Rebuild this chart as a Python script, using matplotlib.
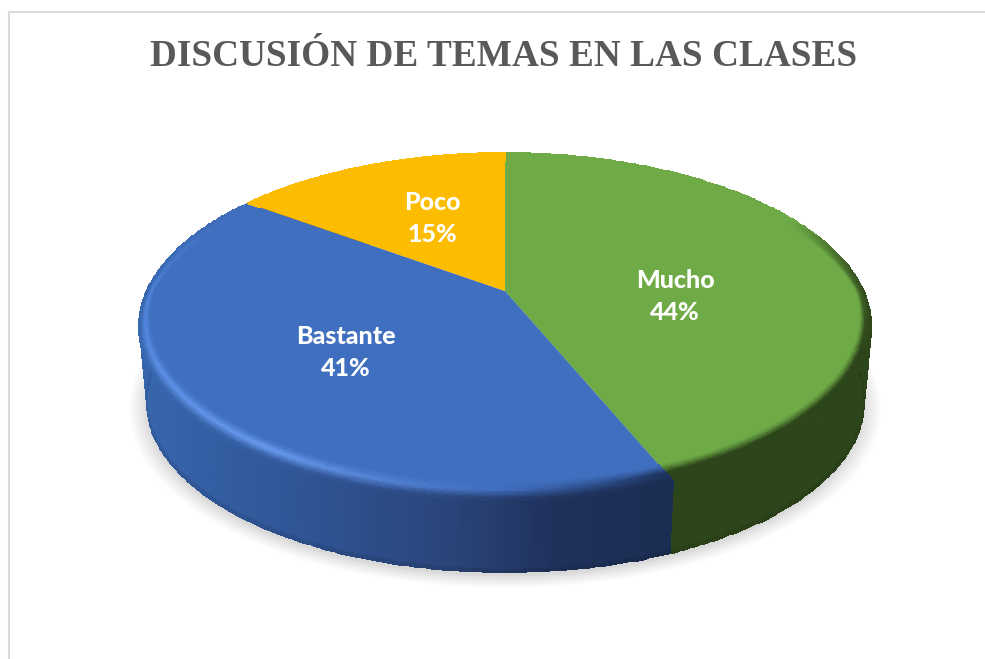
import numpy as np
import matplotlib
matplotlib.use("Agg")
import matplotlib.pyplot as plt
from matplotlib.colors import to_rgb

# datos del grafico
categorias = ["Mucho", "Bastante", "Poco"]
valores = [43.8, 41.3, 14.9]
colores = ["#6EAB47", "#406FBF", "#FCBC00"]
titulo = "DISCUSIÓN DE TEMAS EN LAS CLASES"

# proyeccion en perspectiva del disco
cx, cy = 505, 291
R, b, k = 358.3, 166.2, 0.2045
escala_base, dy_base = 0.98, 76


def proyectar(theta, r=1.0, base=False):
    X = r * np.sin(theta)
    Y = r * np.cos(theta)
    w = 1 + k * Y
    x = R * X / w
    y = -b * Y / w
    if base:
        return cx + escala_base * x, cy + escala_base * y + dy_base
    return cx + x, cy + y


def hex_rgb(lista):
    return np.array([to_rgb(c) for c in lista])


# color del lateral segun x
x_azul = [145, 300, 450, 550, 670]
c_azul = hex_rgb(["#3765AC", "#2F5596", "#2A4479", "#20325C", "#1A2D52"])
x_verde = [660, 870]
c_verde = hex_rgb(["#2D451A", "#2D451A"])
x_amar = [0, 985]
c_amar = hex_rgb(["#7F6000", "#7F6000"])
laterales = [(x_verde, c_verde), (x_azul, c_azul), (x_amar, c_amar)]


def color_lateral(i, x):
    xs, cs = laterales[i]
    return np.stack([np.interp(x, xs, cs[:, j]) for j in range(3)], axis=-1)


# brillo del borde por sector (angulo en grados, color, fuerza)
brillo = [
    ([0, 62, 85, 110, 158], ["#2D451A"] * 5, [0, 0, 0.6, 1, 1]),
    ([158, 180, 215, 270, 306], ["#1E3560", "#3F6CBC", "#6A9BF0", "#4F84DC", "#406FBF"], [1, 1, 1, 1, 0]),
    ([306, 360], ["#FCBC00", "#FCBC00"], [0, 0]),
]

fig = plt.figure(figsize=(9.85, 6.59), dpi=100)
ax = fig.add_axes([0, 0, 1, 1])
ax.set_xlim(0, 985)
ax.set_ylim(659, 0)
ax.axis("off")

# marco
ax.plot([985, 9, 9], [12, 12, 659], color="#D9D9D9", lw=1.5, zorder=1)

ax.text(504, 57, titulo, ha="center", va="center", color="#595959",
        fontsize=26.8, fontweight="bold", family="Liberation Serif", zorder=10)

# sombra
t = np.linspace(0, 2 * np.pi, 361)
gris = np.array(to_rgb("#D8D8D8"))
for f in np.linspace(1, 0, 14):
    x, y = proyectar(t, 1 + 0.05 * f, base=True)
    ax.fill(x, y + 4, color=gris + (1 - gris) * f ** 0.8, lw=0, zorder=2)

# angulos de los sectores, en sentido horario desde arriba
bordes = np.radians(np.concatenate([[0], np.cumsum(valores)]) * 3.6)

# laterales
for i in [2, 0, 1]:
    th = np.linspace(bordes[i], bordes[i + 1], 200)
    xt, yt = proyectar(th)
    xb, yb = proyectar(th, base=True)
    s = np.linspace(0, 1, 25)[:, None]
    mx = xt * (1 - s) + xb * s
    my = yt * (1 - s) + yb * s
    xc = 0.5 * (mx[:-1, :-1] + mx[1:, 1:])
    col = color_lateral(i, xc)
    # borde inferior algo mas oscuro
    sm = 0.5 * (s[:-1] + s[1:])
    col = col * (1 - 0.15 * np.clip((sm - 0.95) / 0.05, 0, 1))[:, :, None]
    ax.pcolormesh(mx, my, col, shading="flat", edgecolors="face", linewidth=0.4, zorder=3)

# caras superiores y bisel
for i in range(3):
    th = np.linspace(bordes[i], bordes[i + 1], 200)
    xa, ya = proyectar(th)
    ax.fill(np.r_[cx, xa], np.r_[cy, ya], color=colores[i], lw=0, zorder=4)

    grados, cols, fuerza = brillo[i]
    cols = hex_rgb(cols)
    gr = np.degrees(th)
    hl = np.stack([np.interp(gr, grados, cols[:, j]) for j in range(3)], axis=-1)
    fz = np.interp(gr, grados, fuerza)
    ancho = 0.02 + 0.05 * np.abs(np.cos(th))
    u = np.linspace(0, 1, 15)[:, None]
    rr = 1 - ancho * (1 - u)
    mx, my = proyectar(th, rr)
    um = 0.5 * (u[:-1] + u[1:])
    hm = 0.5 * (hl[:-1] + hl[1:])
    fm = 0.5 * (fz[:-1] + fz[1:])
    cara = np.array(to_rgb(colores[i]))
    subir = np.clip(um / 0.5, 0, 1) ** 1.3
    col = cara + (hm - cara)[None, :, :] * (subir * fm[None, :])[:, :, None]
    xc = 0.5 * (mx[:-1, :-1] + mx[1:, 1:])
    bajar = np.clip((um - 0.5) / 0.5, 0, 1)
    lado = color_lateral(i, xc)
    col = col + (lado - col) * (bajar * fm[None, :])[:, :, None]
    ax.pcolormesh(mx, my, np.clip(col, 0, 1), shading="flat", edgecolors="face", linewidth=0.3, zorder=5)

# etiquetas
pos_etq = [(675, 296), (346, 352), (432, 217)]
for nom, v, (xe, ye) in zip(categorias, valores, pos_etq):
    ax.text(xe, ye - 15, nom, ha="center", va="center", color="white",
            fontsize=18, fontweight=900, family="Lato", zorder=10)
    ax.text(xe, ye + 17, f"{v:.0f}%", ha="center", va="center", color="white",
            fontsize=18, fontweight=900, family="Lato", zorder=10)

fig.savefig("out.png", dpi=100, facecolor="white")
